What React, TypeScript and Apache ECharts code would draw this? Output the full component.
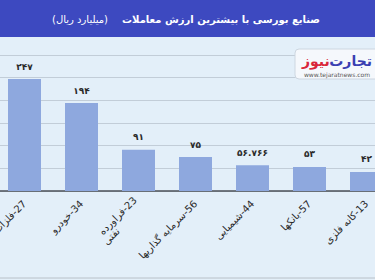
import React, { useEffect, useRef } from "react";
import * as echarts from "echarts";

const codes = ["27", "34", "23", "56", "44", "57", "13"];
const names = ["فلزات", "خودرو", "فراورده\nنفتی", "سرمایه گذاریها", "شیمیایی", "بانکها", "کانه فلزی"];
const values = [247, 194, 91, 75, 56.766, 53, 42];
const titleMain = "صنایع بورسی با بیشترین ارزش معاملات";
const titleUnit = "(میلیارد ریال)";
const yMin = 0;
const yMax = 300;
const yInterval = 50;

const FONT = "DejaVu Sans";
const LRM = "\u200E";
const OX = 4; // the chart div starts 4px left of the page

function toPersian(v: number): string {
  const d = "۰۱۲۳۴۵۶۷۸۹";
  return String(v).replace(/[0-9]/g, (c) => d[Number(c)]);
}

export default function App() {
  const ref = useRef<HTMLDivElement>(null);
  useEffect(() => {
    if (!ref.current) return;
    const chart = echarts.init(ref.current, null, { renderer: "svg" });
    const cats = names.map((n, i) => {
      const parts = n.split("\n");
      return parts[0] + LRM + "-" + codes[i] + (parts.length > 1 ? "\n" + parts.slice(1).join("\n") : "");
    });
    chart.setOption({
      animation: false,
      backgroundColor: "#e3eff9",
      grid: { left: 0, right: 0, top: 55, bottom: 89, containLabel: false, outerBoundsMode: "none" },
      xAxis: {
        type: "category",
        data: cats,
        axisLine: { lineStyle: { color: "#4a4f57", width: 1.5 } },
        axisTick: { show: false },
        axisLabel: {
          interval: 0,
          rotate: 45,
          margin: 11,
          fontFamily: FONT,
          fontSize: 10,
          color: "#2a2a2a",
          formatter: (val: string) => {
            const lines = val.split("\n");
            if (lines.length === 1) return val;
            return lines[0] + "\n{b|" + lines.slice(1).join(" ") + "}";
          },
          rich: {
            b: { fontFamily: FONT, fontSize: 10, color: "#2a2a2a", padding: [0, 34, 0, 0] },
          },
        },
      },
      yAxis: {
        type: "value",
        min: yMin,
        max: yMax,
        interval: yInterval,
        axisLabel: { show: false },
        axisLine: { show: false },
        axisTick: { show: false },
        splitLine: { lineStyle: { color: "#c2cdd8", width: 1 } },
      },
      series: [
        {
          type: "bar",
          data: values,
          barWidth: 33,
          itemStyle: { color: "#8ea8de" },
          label: {
            show: true,
            position: "top",
            distance: 8,
            fontFamily: FONT,
            fontSize: 9,
            fontWeight: "bold",
            color: "#2a2a2a",
            formatter: (p: any) => toPersian(p.value),
          },
        },
      ],
      graphic: [
        { type: "rect", shape: { x: 0, y: 0, width: 399, height: 37 }, style: { fill: "#3d49c0" }, z: 10 },
        {
          type: "text",
          x: 320 + OX,
          y: 19,
          style: {
            text: titleMain,
            fill: "#ffffff",
            font: `bold 10px "${FONT}"`,
            align: "right",
            verticalAlign: "middle",
          },
          z: 11,
        },
        {
          type: "text",
          x: 108 + OX,
          y: 19,
          style: {
            text: titleUnit,
            fill: "#ffffff",
            font: `10px "${FONT}"`,
            align: "right",
            verticalAlign: "middle",
          },
          z: 11,
        },
        {
          type: "rect",
          shape: { x: 295 + OX, y: 49, width: 90, height: 30, r: 4 },
          style: { fill: "#f5f8fc", stroke: "#cdd6e0", lineWidth: 1 },
          z: 10,
        },
        {
          type: "text",
          x: 372 + OX,
          y: 61,
          style: {
            text: "تجارت",
            fill: "#3a3fb2",
            font: `bold 14px "${FONT}"`,
            align: "right",
            verticalAlign: "middle",
          },
          z: 11,
        },
        {
          type: "text",
          x: 302 + OX,
          y: 61,
          style: {
            text: "نیوز",
            fill: "#d9263a",
            font: `bold 14px "${FONT}"`,
            align: "left",
            verticalAlign: "middle",
          },
          z: 11,
        },
        {
          type: "text",
          x: 337 + OX,
          y: 74,
          style: {
            text: "www.tejaratnews.com",
            fill: "#555555",
            font: `6px "${FONT}"`,
            align: "center",
            verticalAlign: "middle",
          },
          z: 11,
        },
        {
          type: "line",
          shape: { x1: 0, y1: 278, x2: 399, y2: 278 },
          style: { stroke: "#b8c0c8", lineWidth: 1 },
          z: 10,
        },
      ],
    });
    return () => chart.dispose();
  }, []);
  return (
    <div
      ref={ref}
      style={{ position: "fixed", left: -OX, top: 0, width: 399, height: 280 }}
    />
  );
}
